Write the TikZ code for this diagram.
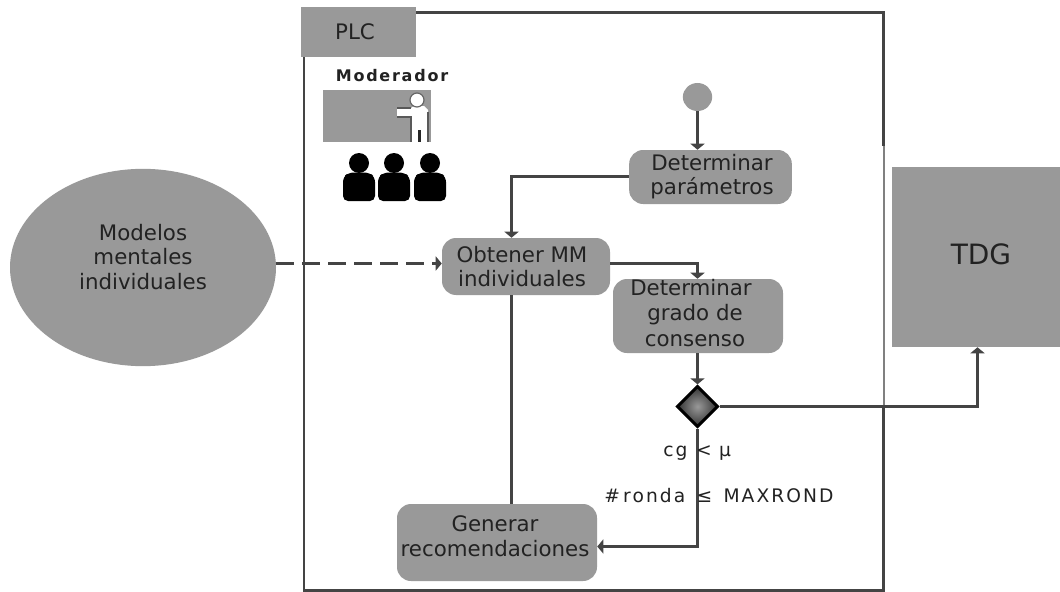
\documentclass[tikz,border=0pt]{standalone}
\usepackage{fontspec}
\setmainfont{DejaVu Sans}
\usetikzlibrary{shapes.geometric,arrows.meta}
\definecolor{fillgray}{HTML}{999999}
\definecolor{linegray}{HTML}{444444}
\definecolor{inkgray}{HTML}{222222}
\tikzset{
  x=0.75pt,y=-0.75pt,
  box/.style={fill=fillgray,rounded corners=10.5pt,inner sep=0pt},
  boxtext/.style={align=center,font=\fontsize{16}{18.5}\selectfont,text=inkgray,inner sep=0pt},
  conn/.style={draw=linegray,line width=2.2pt,-{Triangle[width=10.5pt,length=4.5pt]}},
  plain/.style={draw=linegray,line width=2.2pt},
  lbl/.style={font=\fontsize{14}{16}\selectfont\addfontfeature{LetterSpace=11},text=inkgray,inner sep=0pt,anchor=west}
}
\begin{document}
\begin{tikzpicture}
\useasboundingbox (0,0) rectangle (1060,592);
\fill[white] (0,0) rectangle (1060,592);
% frame
\coordinate (ftl) at (304,57); \coordinate (fbl) at (304,590.5);
\coordinate (ftm) at (415,12.5); \coordinate (ftr) at (883.5,12.5);
\coordinate (fbr) at (883.5,590.5); \coordinate (frm) at (883.5,145);
\coordinate (frj) at (883.5,406.5);
\draw[draw=black!50,line width=1.5pt] (frj) -- (frm);
\draw[plain,line cap=rect] (ftl) -- (fbl) -- (fbr) -- (frj);
\draw[plain,line cap=rect] (frm) -- (ftr) -- (ftm);
\node[fill=fillgray,minimum width=86.25pt,minimum height=37.5pt,inner sep=0pt] (plc) at (358.5,32) {};
\node[boxtext] (plct) at (355,32) {PLC};
\node[inner sep=0pt,font=\fontsize{12}{14}\selectfont\bfseries\addfontfeature{LetterSpace=11},text=inkgray] (mod) at (392,76) {Moderador};
% moderator picture
\node[fill=fillgray,minimum width=81pt,minimum height=39pt,inner sep=0pt] (modbox) at (377,116) {};
\fill[white] (397,108) -- (411,108) -- (414,106) -- (424,106) -- (428,110) -- (428,142) -- (412,142) -- (412,117) -- (397,117) -- cycle;
\fill[white,draw=black!60,line width=0.9pt] (417,100) circle (7);
\draw[black!65,line width=0.9pt] (397,108) -- (411,108) (397,117) -- (411,117) -- (411,142) (428,112) -- (428,142);
\draw[black!85,line width=1.6pt] (419.5,130) -- (419.5,142);
\foreach \cx in {359,394,430}{
  \fill[black] (\cx,163) circle (10);
  \fill[black,rounded corners=3.75pt] (\cx-16,201) -- (\cx-16,177) -- (\cx-10,172.5) -- (\cx+10,172.5) -- (\cx+16,177) -- (\cx+16,201) -- cycle;
}
% ellipse
\node[ellipse,fill=fillgray,minimum width=199.5pt,minimum height=148pt,inner sep=0pt] (mmi) at (143,267.5) {};
\node[boxtext] (mmit) at (143,257) {Modelos\\mentales\\individuales};
% tdg
\node[fill=fillgray,minimum width=126pt,minimum height=135pt,inner sep=0pt] (tdg) at (976,257) {};
\node[inner sep=0pt,font=\fontsize{21}{24}\selectfont,text=inkgray] (tdgt) at (981,254) {TDG};
% activities
\node[ellipse,fill=fillgray,minimum width=22pt,minimum height=21pt,inner sep=0pt] (start) at (697.5,97) {};
\node[box,minimum width=122pt,minimum height=40.5pt] (par) at (710.5,177) {};
\node[boxtext] (part) at (712,176.5) {Determinar\\parámetros};
\node[box,minimum width=126pt,minimum height=42.75pt] (obt) at (526,266.5) {};
\node[boxtext] (obtt) at (522,266.5) {Obtener MM\\individuales};
\node[box,minimum width=127.5pt,minimum height=55.5pt] (gra) at (698,316) {};
\node[boxtext,font=\fontsize{16}{19}\selectfont] (grat) at (695,313) {\hspace*{-6pt}Determinar\\grado de\\consenso};
\node[box,minimum width=150pt,minimum height=57.75pt] (gen) at (497,542.5) {};
\node[boxtext] (gent) at (495,536) {Generar\\recomendaciones};
% connectors
\coordinate (j1) at (511.5,176.5); \coordinate (j2) at (697.5,263.5);
\coordinate (j3) at (697.5,546.5); \coordinate (j4) at (977.5,406.5);
\coordinate (d1) at (511.5,263.5); \coordinate (dc) at (697.5,406.5);
\node[diamond,draw=black,line width=2.2pt,inner sep=0pt,minimum width=31pt,minimum height=31pt,inner color=fillgray,outer color=black!80] (dec) at (dc) {};
\draw[conn] (start) -- (start|-par.north);
\draw[conn] (par.west|-j1) -- (j1) -- (j1|-obt.north);
\draw[conn] (obt.east|-j2) -- (j2) -- (j2|-gra.north);
\draw[conn] (gra.south-|dec) -- (dec.north);
\draw[conn] (dec.east) -- (j4) -- (j4|-tdg.south);
\draw[conn] (dec.south) -- (j3) -- (gen.east|-j3);
\draw[plain] (obt.south-|j1) -- (gen.north-|j1);
\draw[conn,dash pattern=on 13.5pt off 6pt] (mmi.east|-d1) -- (obt.west|-d1);
% labels
\node[lbl] (cg) at (663,453) {cg\hspace{6.5pt}<\hspace{5.5pt}µ};
\node[lbl] (ron) at (604,496) {\#\hspace{2.5pt}ronda\hspace{8.5pt}≤\hspace{8.5pt}MAXROND};
\end{tikzpicture}
\end{document}
